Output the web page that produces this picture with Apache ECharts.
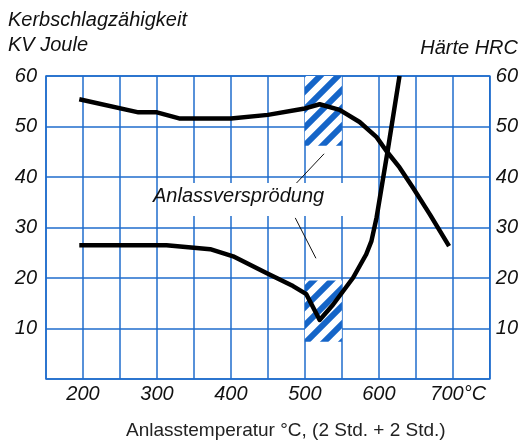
<!DOCTYPE html>
<html>
<head>
<meta charset="utf-8">
<script src="https://cdn.jsdelivr.net/npm/echarts@6/dist/echarts.min.js"></script>
<style>
html,body{margin:0;padding:0;background:#fff;}
#chart{width:521px;height:441px;}
</style>
</head>
<body>
<div id="chart"></div>
<script>
// Temperature (°C) and values
const hardnessT = [195, 275, 300, 330, 400, 450, 498, 520, 547, 574, 597, 610, 628, 646, 669, 695];
const hardnessHRC = [55.4, 52.8, 52.8, 51.6, 51.6, 52.3, 53.5, 54.4, 53.3, 50.9, 47.9, 45.2, 41.9, 37.9, 32.6, 26.3];

const toughnessT = [195, 313, 372, 403, 448, 484, 502, 520, 538, 565, 583, 590, 597, 603, 612, 628];
const toughnessKV = [26.5, 26.5, 25.7, 24.3, 21.0, 18.4, 16.8, 11.7, 14.7, 20.0, 24.7, 27.3, 32.0, 37.3, 45.2, 60];

// Embrittlement zone (°C range) and hatched value bands
const zoneT = [500, 550];
const zoneUpper = [46.2, 60];
const zoneLower = [7.4, 19.5];

// Leader lines from the annotation to the hatched zones: [T1, V1, T2, V2]
const leaderUpper = [488, 38.7, 526, 44.6];
const leaderLower = [487, 31.9, 515, 23.9];

const xTickLabels = [200, 300, 400, 500, 600, 700];
const yTickLabels = [10, 20, 30, 40, 50, 60];

const FONT = "Liberation Sans";
const BLUE = '#1f6dcc';

function hatch() {
  const c = document.createElement('canvas');
  c.width = 18; c.height = 18;
  const ctx = c.getContext('2d');
  ctx.fillStyle = '#ffffff';
  ctx.fillRect(0, 0, 18, 18);
  ctx.strokeStyle = '#1565c8';
  ctx.lineWidth = 6;
  [0, 18, 36].forEach(k => {
    ctx.beginPath();
    ctx.moveTo(-5, k + 5);
    ctx.lineTo(k + 5, -5);
    ctx.stroke();
  });
  return c;
}

const chart = echarts.init(document.getElementById('chart'), null, {renderer: 'canvas'});

const pairs = (t, v) => t.map((x, i) => [x, v[i]]);

const ital = {fontSize: 20, fontStyle: 'italic', fontFamily: FONT, color: '#111'};

chart.setOption({
  animation: false,
  textStyle: {fontFamily: FONT},
  grid: {
    left: 46, right: 31, top: 76, bottom: 62,
    show: true, borderColor: BLUE, borderWidth: 1.5, backgroundColor: 'transparent'
  },
  xAxis: {
    type: 'value', min: 150, max: 750, interval: 50,
    axisLine: {show: false}, axisTick: {show: false},
    splitLine: {show: true, lineStyle: {color: BLUE, width: 1.5}},
    axisLabel: Object.assign({}, ital, {
      margin: 5,
      formatter: v => {
        if (xTickLabels.indexOf(v) < 0) return '';
        if (v === 700) return '{u|700°C}';
        return String(v);
      },
      rich: {
        u: Object.assign({}, ital, {padding: [0, 0, 0, 11]})
      }
    })
  },
  yAxis: [{
    type: 'value', min: 0, max: 60, interval: 10, position: 'left',
    axisLine: {show: false}, axisTick: {show: false},
    splitLine: {show: true, lineStyle: {color: BLUE, width: 1.5}},
    axisLabel: Object.assign({}, ital, {
      margin: 9, padding: [0, 0, 5, 0],
      formatter: v => yTickLabels.indexOf(v) >= 0 ? String(v) : ''
    })
  }, {
    type: 'value', min: 0, max: 60, interval: 10, position: 'right',
    axisLine: {show: false}, axisTick: {show: false}, splitLine: {show: false},
    axisLabel: Object.assign({}, ital, {
      margin: 6, padding: [0, 0, 5, 0],
      formatter: v => yTickLabels.indexOf(v) >= 0 ? String(v) : ''
    })
  }],
  series: [{
    type: 'line', data: [], z: 1, silent: true,
    markArea: {
      silent: true,
      itemStyle: {color: {image: hatch(), repeat: 'repeat'}},
      data: [
        [{coord: [zoneT[0], zoneUpper[0]]}, {coord: [zoneT[1], zoneUpper[1]]}],
        [{coord: [zoneT[0], zoneLower[0]]}, {coord: [zoneT[1], zoneLower[1]]}]
      ]
    },
    markLine: {
      silent: true, symbol: ['none', 'none'],
      lineStyle: {color: '#111', width: 1, type: 'solid'},
      label: {show: false},
      data: [
        [{coord: [leaderUpper[0], leaderUpper[1]]}, {coord: [leaderUpper[2], leaderUpper[3]]}],
        [{coord: [leaderLower[0], leaderLower[1]]}, {coord: [leaderLower[2], leaderLower[3]]}]
      ]
    }
  }, {
    name: 'Härte HRC', type: 'line', yAxisIndex: 1, z: 5,
    data: pairs(hardnessT, hardnessHRC),
    showSymbol: false, symbol: 'none',
    lineStyle: {color: '#000', width: 4.5, cap: 'butt', join: 'round'}
  }, {
    name: 'Kerbschlagzähigkeit KV Joule', type: 'line', yAxisIndex: 0, z: 5,
    data: pairs(toughnessT, toughnessKV),
    showSymbol: false, symbol: 'none',
    lineStyle: {color: '#000', width: 4.5, cap: 'butt', join: 'round'}
  }],
  graphic: [
    {type: 'text', left: 8, top: 10, style: {text: 'Kerbschlagzähigkeit', font: 'italic 20px ' + FONT, fill: '#111'}},
    {type: 'text', left: 8, top: 35, style: {text: 'KV Joule', font: 'italic 20px ' + FONT, fill: '#111'}},
    {type: 'text', right: 3, top: 38, style: {text: 'Härte HRC', font: 'italic 20px ' + FONT, fill: '#111'}},
    {type: 'rect', shape: {x: 160, y: 183, width: 186, height: 33}, style: {fill: '#fff'}, z: 10},
    {type: 'text', left: 153, top: 186, z: 11, style: {text: 'Anlassversprödung', font: 'italic 20px ' + FONT, fill: '#111'}},
    {type: 'text', left: 126, top: 421, style: {text: 'Anlasstemperatur °C, (2 Std. + 2 Std.)', font: '19px ' + FONT, fill: '#222'}}
  ]
});
</script>
</body>
</html>
